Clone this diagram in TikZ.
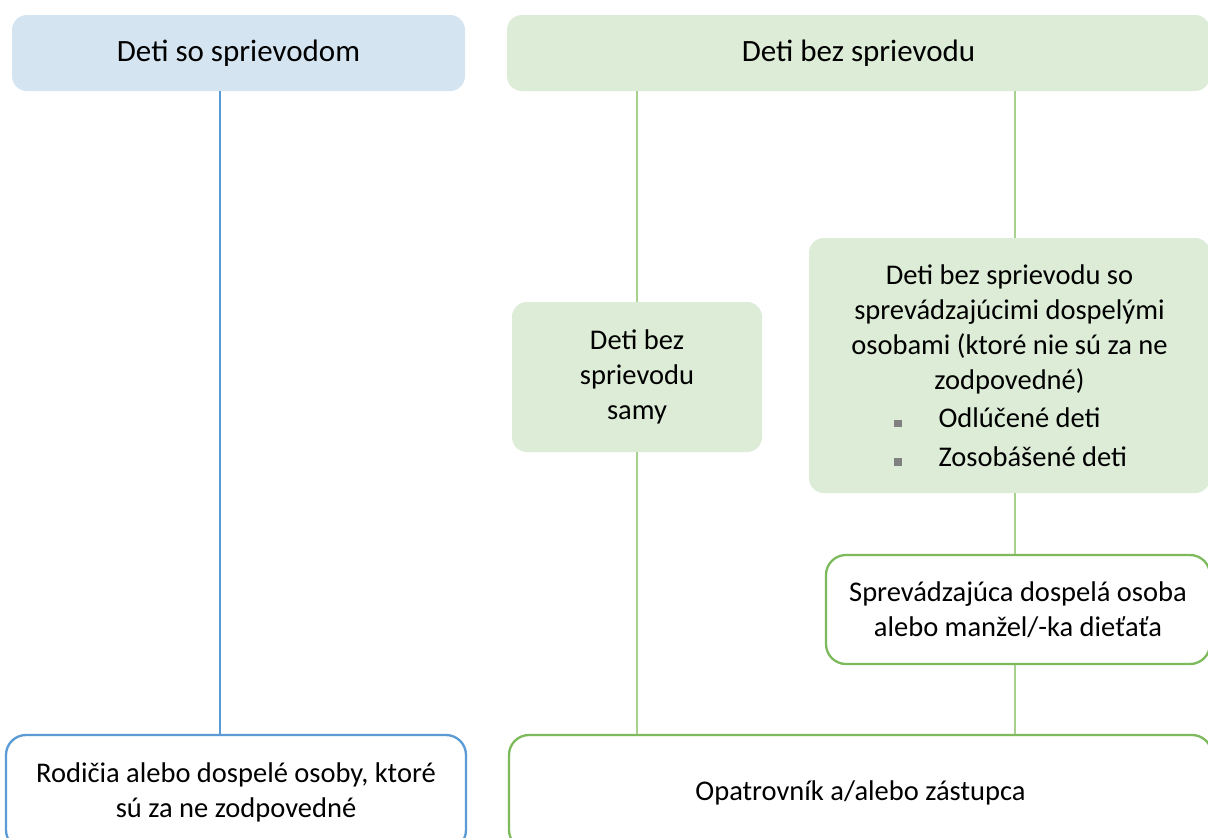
\documentclass[tikz,border=0pt]{standalone}
\usepackage{fontspec}
\setmainfont{Carlito}
\definecolor{bluefill}{HTML}{D4E4F0}
\definecolor{greenfill}{HTML}{DCECD6}
\definecolor{blueline}{HTML}{5B9BD5}
\definecolor{greenline}{HTML}{7DBA5C}
\definecolor{greenconn}{HTML}{A9D18E}
\definecolor{bulletgray}{HTML}{808080}
\newcommand\sqbullet{\textcolor{bulletgray}{\rule[0.5pt]{8pt}{7.5pt}}}
\begin{document}
\begin{tikzpicture}[x=1pt,y=-1pt,
  every node/.style={font=\fontsize{28.5}{35}\selectfont, text=black, inner sep=0pt, align=center},
  headfont/.style={font=\fontsize{31}{35}\selectfont},
  bluefillbox/.style={fill=bluefill, rounded corners=15pt},
  greenfillbox/.style={fill=greenfill, rounded corners=15pt},
  blueborder/.style={draw=blueline, line width=2.3pt, rounded corners=20pt, fill=white},
  greenborder/.style={draw=greenline, line width=2.3pt, rounded corners=20pt, fill=white},
  bconn/.style={draw=blueline, line width=2.5pt},
  gconn/.style={draw=greenconn, line width=2.5pt}]
\clip (0,0) rectangle (1208,838);
\fill[white] (0,0) rectangle (1208,838);
% boxes
\node[bluefillbox, headfont, minimum width=453pt, minimum height=76pt] (A) at (238.5,53) {Deti so sprievodom};
\node[greenfillbox, headfont, minimum width=703pt, minimum height=76pt] (B) at (858.5,53) {Deti bez sprievodu};
\node[greenfillbox, minimum width=250pt, minimum height=150pt] (C) at (637,377) {Deti bez\\sprievodu\\samy};
\node[greenfillbox, minimum width=401pt, minimum height=255pt] (D) at (1009.5,365.5)
  {Deti bez sprievodu so\\sprevádzajúcimi dospelými\\osobami (ktoré nie sú za ne\\zodpovedné)\\[3.5pt]
   \makebox[232pt][l]{\sqbullet\hspace{37pt}Odlúčené deti}\\[3.5pt]
   \makebox[232pt][l]{\sqbullet\hspace{37pt}Zosobášené deti}};
\node[greenborder, minimum width=384pt, minimum height=109pt] (E) at (1018,609.5)
  {Sprevádzajúca dospelá osoba\\alebo manžel/-ka dieťaťa};
\node[blueborder, minimum width=460pt, minimum height=115pt] (F) at (236,792.5)
  {Rodičia alebo dospelé osoby, ktoré\\sú za ne zodpovedné};
\node[greenborder, minimum width=703pt, minimum height=115pt] (G) at (860.5,792.5)
  {Opatrovník a/alebo zástupca};
% connector x positions
\coordinate (xa) at (220,0);
\coordinate (xc) at (637,0);
\coordinate (xd) at (1015,0);
\draw[bconn] (A.south -| xa) -- (F.north -| xa);
\draw[gconn] (B.south -| xc) -- (C.north -| xc);
\draw[gconn] (C.south -| xc) -- (G.north -| xc);
\draw[gconn] (B.south -| xd) -- (D.north -| xd);
\draw[gconn] (D.south -| xd) -- (E.north -| xd);
\draw[gconn] (E.south -| xd) -- (G.north -| xd);
\end{tikzpicture}
\end{document}
